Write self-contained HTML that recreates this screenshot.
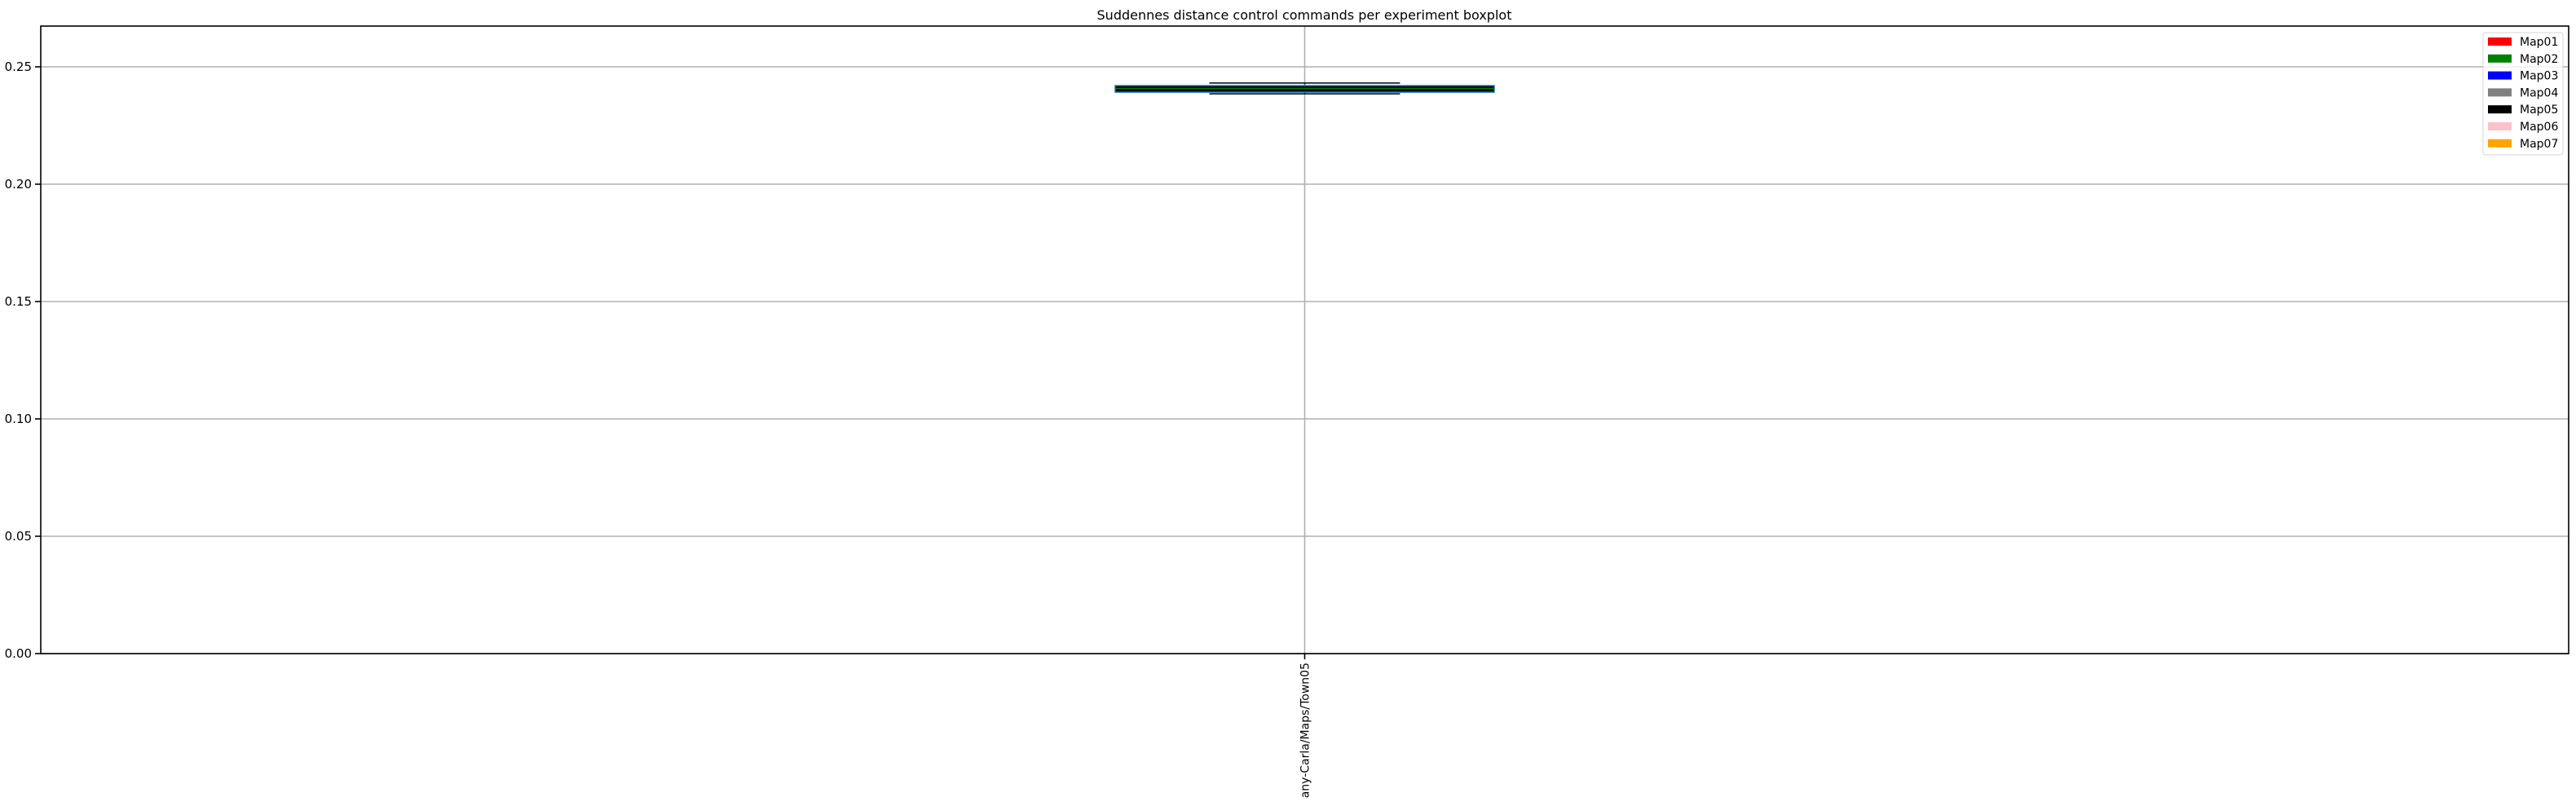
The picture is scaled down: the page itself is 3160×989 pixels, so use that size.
<!DOCTYPE html>
<html><head><meta charset="utf-8"><style>body{margin:0;background:#fff}svg{display:block;font-family:"DejaVu Sans","Liberation Sans",sans-serif}</style></head>
<body>
<svg id="chart" width="3160" height="989" viewBox="0 0 3160 989" xmlns="http://www.w3.org/2000/svg">
<rect width="3160" height="989" fill="#fff"/>
<text x="1600" y="24" font-size="16" text-anchor="middle" fill="#000">Suddennes distance control commands per experiment boxplot</text>
<g id="grid"></g>
<g id="boxes"></g>
<rect x="50" y="32" width="3101" height="770" fill="none" stroke="#000" stroke-width="1.6"/>
<g id="yaxis"></g>
<g id="xaxis"></g>
<g id="legend"></g>
</svg>
<script>
const categories = ["any-Carla/Maps/Town05"];
const q1 = [0.2392];
const q3 = [0.2420];
const medians = [0.2408];
const whiskerLow = [0.2385];
const whiskerHigh = [0.2431];
const yTicks = [0, 0.05, 0.10, 0.15, 0.20, 0.25];
const yTickLabels = ["0.00","0.05","0.10","0.15","0.20","0.25"];
const legendLabels = ["Map01","Map02","Map03","Map04","Map05","Map06","Map07"];
const legendColors = ["red","green","blue","gray","black","pink","orange"];

const NS="http://www.w3.org/2000/svg";
const L=50,R=3151,T=32,B=802,yMax=0.26736;
const y=v=>B-(v/yMax)*(B-T);
const x=i=>L+(i+0.5)*(R-L)/categories.length;
function mk(tag,attrs,parent){const e=document.createElementNS(NS,tag);for(const k in attrs)e.setAttribute(k,attrs[k]);parent.appendChild(e);return e;}
const grid=document.getElementById('grid'),ya=document.getElementById('yaxis'),xa=document.getElementById('xaxis'),bx=document.getElementById('boxes'),lg=document.getElementById('legend');
yTicks.forEach((t,i)=>{
  const g=mk('line',{x1:L,x2:R,y1:y(t),y2:y(t),stroke:'#b0b0b0','stroke-width':1.6},grid);
  
  
  mk('line',{x1:L-7,x2:L,y1:y(t),y2:y(t),stroke:'#000','stroke-width':1.6},ya);
  const tx=mk('text',{x:L-11,y:y(t)+5,'font-size':15,'text-anchor':'end',fill:'#000'},ya);
  tx.textContent=yTickLabels[i];
  
  
});
categories.forEach((c,i)=>{
  const cx=x(i);
  const g=mk('line',{x1:cx,x2:cx,y1:T,y2:B,stroke:'#b0b0b0','stroke-width':1.6},grid);
  
  
  mk('line',{x1:cx,x2:cx,y1:B,y2:B+7,stroke:'#000','stroke-width':1.6},xa);
  const tx=mk('text',{x:0,y:0,'font-size':14,'text-anchor':'end',fill:'#000',transform:`translate(${cx+5},${B+11}) rotate(-90)`},xa);
  tx.textContent=c;
  
  
  const bw=465,ww=234;
  const wl=mk('line',{x1:cx,x2:cx,y1:y(whiskerHigh[i]),y2:y(whiskerLow[i]),stroke:'#1f77b4','stroke-width':1.5},bx);
  
  
  [whiskerHigh[i],whiskerLow[i]].forEach(v=>{
    const cap=mk('line',{x1:cx-ww/2,x2:cx+ww/2,y1:y(v),y2:y(v),stroke:'#000','stroke-width':1.5},bx);
    
    
  });
  const r=mk('rect',{x:cx-bw/2,y:y(q3[i]),width:bw,height:Math.max(1,y(q1[i])-y(q3[i])),fill:'#000',stroke:'#1f77b4','stroke-width':1.5},bx);
  
  
  const m=mk('line',{x1:cx-bw/2,x2:cx+bw/2,y1:y(medians[i]),y2:y(medians[i]),stroke:'green','stroke-width':1.5},bx);
  
  
});
const lb=mk('rect',{x:3046,y:40,width:98,height:150,rx:3,fill:'#fff','fill-opacity':0.8,stroke:'#d5d5d5','stroke-width':1},lg);


legendLabels.forEach((l,i)=>{
  const yy=51+i*20.8;
  const p=mk('rect',{x:3052,y:yy-5,width:29,height:10,fill:legendColors[i]},lg);
  
  
  const t=mk('text',{x:3091,y:yy+5,'font-size':14,fill:'#000'},lg);
  t.textContent=l;
  
  
});
</script>
</body></html>
